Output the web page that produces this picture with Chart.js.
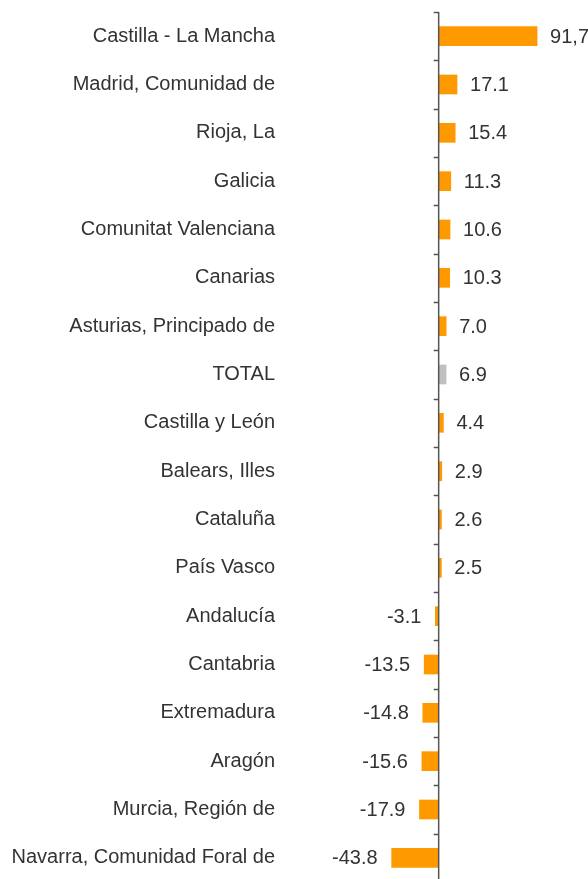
<!DOCTYPE html>
<html>
<head>
<meta charset="utf-8">
<script src="https://cdn.jsdelivr.net/npm/chart.js@4/dist/chart.umd.min.js"></script>
<style>
  html, body { margin: 0; padding: 0; background: #fff; overflow: hidden; }
  #wrap { width: 588px; height: 882px; }
</style>
</head>
<body>
<div id="wrap"><canvas id="regionChart"></canvas></div>
<script>
// Variación por comunidad autónoma (%)
const regions = [
    'Castilla - La Mancha', 'Madrid, Comunidad de', 'Rioja, La', 'Galicia',
    'Comunitat Valenciana', 'Canarias', 'Asturias, Principado de', 'TOTAL',
    'Castilla y León', 'Balears, Illes', 'Cataluña', 'País Vasco', 'Andalucía',
    'Cantabria', 'Extremadura', 'Aragón', 'Murcia, Región de',
    'Navarra, Comunidad Foral de'
];
const changes = [91.7, 17.1, 15.4, 11.3, 10.6, 10.3, 7.0, 6.9, 4.4, 2.9, 2.6, 2.5,
    -3.1, -13.5, -14.8, -15.6, -17.9, -43.8];
const changeLabels = ['91,7', '17.1', '15.4', '11.3', '10.6', '10.3', '7.0', '6.9', '4.4',
    '2.9', '2.6', '2.5', '-3.1', '-13.5', '-14.8', '-15.6', '-17.9', '-43.8'];

const barColors = regions.map(r => r === 'TOTAL' ? '#c0c0c0' : '#ff9900');
const FONT = '"Liberation Sans", Arial, sans-serif';

// zero axis line with small ticks between categories, plus value labels
const axisAndLabels = {
    id: 'axisAndLabels',
    afterDatasetsDraw(chart) {
        const ctx = chart.ctx;
        const x0 = chart.scales.x.getPixelForValue(0);
        const yScale = chart.scales.y;
        const step = yScale.height / regions.length;

        ctx.save();
        ctx.strokeStyle = '#555';
        ctx.lineWidth = 1.5;
        ctx.beginPath();
        ctx.moveTo(x0, yScale.top);
        ctx.lineTo(x0, chart.height);
        ctx.stroke();
        for (let i = 0; i <= regions.length; i++) {
            const y = Math.round(yScale.top + i * step) + 0.5;
            ctx.beginPath();
            ctx.moveTo(x0 - 5, y);
            ctx.lineTo(x0, y);
            ctx.stroke();
        }

        ctx.fillStyle = '#333';
        ctx.font = '20px ' + FONT;
        ctx.textBaseline = 'middle';
        chart.getDatasetMeta(0).data.forEach((bar, i) => {
            if (changes[i] >= 0) {
                ctx.textAlign = 'left';
                ctx.fillText(changeLabels[i], bar.x + 13, bar.y + 1);
            } else {
                ctx.textAlign = 'right';
                ctx.fillText(changeLabels[i], bar.x - 14, bar.y + 1);
            }
        });
        ctx.restore();
    }
};

new Chart(document.getElementById('regionChart'), {
    type: 'bar',
    data: {
        labels: regions,
        datasets: [{
            data: changes,
            backgroundColor: barColors,
            borderWidth: 0,
            barThickness: 19
        }]
    },
    options: {
        indexAxis: 'y',
        responsive: true,
        maintainAspectRatio: false,
        animation: false,
        layout: { padding: { top: 12, right: 42, bottom: 0, left: 0 } },
        plugins: {
            legend: { display: false },
            tooltip: { enabled: false }
        },
        scales: {
            x: {
                display: false,
                min: -50,
                max: 100
            },
            y: {
                afterFit(scale) {
                    scale.width = 385;
                    scale.paddingTop = 0;
                    scale.paddingBottom = 0;
                },
                grid: { display: false },
                border: { display: false },
                ticks: {
                    padding: 102,
                    color: '#333',
                    font: { family: FONT, size: 20 }
                }
            }
        }
    },
    plugins: [axisAndLabels]
});
</script>
</body>
</html>
